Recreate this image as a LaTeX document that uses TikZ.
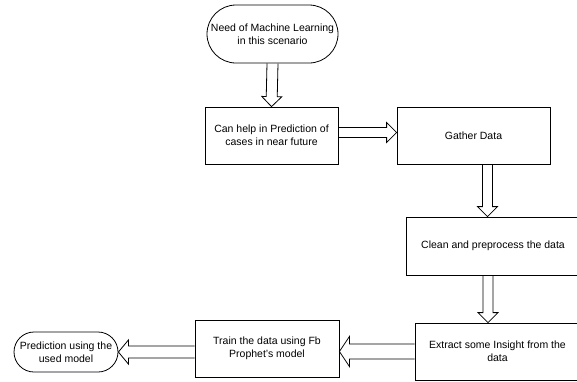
\documentclass[tikz,border=0pt]{standalone}
\usepackage{fontspec}
\setmainfont{Liberation Sans}
\usetikzlibrary{
	positioning,
	calc,
	shapes.misc
}

\tikzset{
	box/.style={draw,line width=0.8pt,align=center,inner sep=2pt,
		font=\fontsize{10.5}{13}\selectfont},
	term/.style={box,rounded rectangle},
	hollow/.style args={#1/#2}{line width=0.8pt,to path={
		($(\tikztotarget)!10pt!(\tikztostart)$) coordinate (hq)
		($(\tikztostart)!#1!90:(\tikztotarget)$)
		-- ($(hq)!#1!90:(\tikztotarget)$)
		-- ($(hq)!#2!90:(\tikztotarget)$)
		-- (\tikztotarget)
		-- ($(hq)!#2!-90:(\tikztotarget)$)
		-- ($(hq)!#1!-90:(\tikztotarget)$)
		-- ($(\tikztostart)!#1!-90:(\tikztotarget)$)}}
}

\begin{document}
\begin{tikzpicture}[x=1pt,y=-1pt]
		\useasboundingbox (0,0) rectangle (577,381);

		\node[term,minimum width=135pt,minimum height=58pt]  (need)    at (272.5,34)  {Need of Machine Learning\\in this scenario};
		\node[box,minimum width=133pt,minimum height=57pt]   (help)    at (271.5,135.5) {Can help in Prediction of\\cases in near future};
		\node[box,minimum width=153pt,minimum height=57pt]   (gather)  at (473.5,135.5) {Gather Data};
		\node[box,minimum width=174pt,minimum height=58pt]   (clean)   at (493,246)   {Clean and preprocess the data};
		\node[box,minimum width=165pt,minimum height=57pt]   (extract) at (497.5,351.5) {Extract some Insight from the\\data};
		\node[box,minimum width=144pt,minimum height=57pt]   (train)   at (267,348.5) {Train the data using Fb\\Prophet's model};
		\node[term,minimum width=108pt,minimum height=40pt]  (predict) at (66,352)    {Prediction using the\\used model};

		\draw[hollow=5.5pt/10pt] (need.south) to (help.north);
		\draw[hollow=5pt/10pt]   ([yshift=3pt]help.east) to ([yshift=3pt]gather.west);
		\draw[hollow=5pt/10pt]   ([xshift=14pt]gather.south) to ([xshift=-5.5pt]clean.north);
		\draw[hollow=5pt/10pt]   ([xshift=-5pt]clean.south) to ([xshift=-9.5pt]extract.north);
		\draw[hollow=7.5pt/15pt] (extract.west) to (extract.west -| train.east);
		\draw[hollow=6pt/12pt]   (predict.east -| train.west) to (predict.east);
	\end{tikzpicture}
\end{document}
